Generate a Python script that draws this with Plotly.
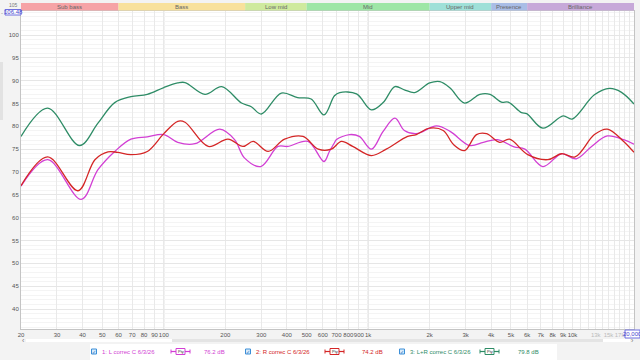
import math
import plotly.graph_objects as go

# ---------------- data ----------------
freq_L = [20, 27, 39.4, 47.6, 57.5, 69, 83, 100, 117, 142, 188, 222, 248, 298, 362, 404, 508, 608, 646, 684, 700,
          812, 905, 1038, 1184, 1352, 1504, 1720, 2160, 2518, 3140, 3660, 4300, 5180, 5850, 7160, 8840, 10440,
          12400, 14800, 17800, 20000]
db_L = [66.9, 72.7, 64.0, 70.5, 74.5, 77.2, 77.7, 78.2, 76.5, 76.2, 79.4, 77.1, 73.1, 71.2, 75.6, 75.6, 76.7, 72.3, 74.5, 76.4, 77.1,
        78.2, 77.8, 75.0, 78.9, 81.8, 79.1, 78.4, 80.1, 78.9, 75.8, 76.5, 77.1, 75.5, 75.0, 71.2, 74.0, 72.9,
        75.6, 77.9, 77.1, 76.1]

freq_R = [20, 27, 38, 46, 53.3, 59.4, 69, 83, 100, 117, 127, 165, 206, 244, 274, 324, 390, 480, 570, 660, 740, 840,
          1038, 1226, 1560, 1720, 2000, 2330, 2620, 2965, 3390, 3800, 4400, 4920, 6040, 7580, 8840, 10300, 12800,
          14800, 17800, 20000]
db_R = [67.0, 73.3, 65.9, 72.7, 74.4, 74.3, 73.8, 74.5, 78.4, 81.1, 80.9, 75.6, 77.2, 75.6, 76.7, 74.5, 77.2, 77.8, 75.0, 75.0, 76.7, 75.6,
        73.6, 75.0, 77.8, 78.2, 79.6, 79.1, 76.0, 74.7, 78.2, 78.4, 76.5, 77.2, 73.8, 72.7, 74.0, 73.3, 78.2,
        79.4, 76.7, 74.3]

freq_LR = [20, 27, 38.7, 47.6, 57.5, 69, 83, 100, 117, 127, 159, 192, 240, 268, 300, 376, 452, 526, 608, 684, 726,
           877, 1038, 1184, 1352, 1504, 1688, 2000, 2245, 2518, 2965, 3520, 3950, 4490, 4850, 5630, 5970, 7160,
           9000, 9960, 12800, 15180, 17300, 20000]
db_LR = [77.8, 84.0, 75.8, 80.7, 85.2, 86.5, 87.0, 88.5, 89.5, 89.6, 87.0, 88.7, 85.1, 84.3, 82.7, 87.3, 86.3, 86.0, 82.5, 86.7, 87.4,
         87.1, 83.6, 85.2, 88.7, 88.0, 87.4, 89.5, 89.8, 88.4, 85.1, 87.0, 87.0, 85.3, 85.3, 83.0, 82.8, 79.6,
         82.3, 81.6, 86.9, 88.3, 87.5, 84.9]

series_names = ["1: L correc C 6/3/26", "2: R correc C 6/3/26", "3: L+R correc C 6/3/26"]
series_levels = ["76.2 dB", "74.2 dB", "79.8 dB"]
series_colors = ["#D23FD4", "#D42626", "#2E8C66"]

bands = ["Sub bass", "Bass", "Low mid", "Mid", "Upper mid", "Presence", "Brilliance"]
band_edges = [20, 60, 250, 500, 2000, 4000, 6000, 20000]
band_colors = ["#F6A3A6", "#F8E19C", "#CFEA9E", "#9EE6A6", "#9FE0D8", "#A9BDE6", "#C7A9D9"]

y_ticks = [40, 45, 50, 55, 60, 65, 70, 75, 80, 85, 90, 95, 100]
y_top_label = "105"
x_tick_vals = [20, 30, 40, 50, 60, 70, 80, 90, 100, 200, 300, 400, 500, 600, 700, 800, 900,
               1000, 2000, 3000, 4000, 5000, 6000, 7000, 8000, 9000, 10000,
               11000, 12000, 13000, 14000, 15000, 16000, 17000, 18000, 19000]
x_tick_text = ["20", "30", "40", "50", "60", "70", "80", "90", "100", "200", "300", "400", "500", "600", "700",
               "800", "900", "1k", "2k", "3k", "4k", "5k", "6k", "7k", "8k", "9k", "10k",
               "", "", "<span style='color:#BBBBBB'>13k</span>", "", "<span style='color:#BBBBBB'>15k</span>", "",
               "<span style='color:#BBBBBB'>17k</span>", "", ""]

# ---------------- layout geometry ----------------
W, H = 640, 360
L, R, T, B = 21, 6, 11, 31
PW, PH = W - L - R, H - T - B
XMIN, XMAX = math.log10(20), math.log10(20000)


def fx(f):
    return (math.log10(f) - XMIN) / (XMAX - XMIN)


def px(x):
    return (x - L) / PW


def py(y):
    return (H - B - y) / PH


FONT = "Liberation Sans, Arial, sans-serif"


def note(x, y, text, size=6, color="#555555", xanchor="center", family=FONT):
    return dict(xref="paper", yref="paper", x=x, y=y, text=text, showarrow=False,
                xanchor=xanchor, yanchor="middle", font=dict(size=size, color=color, family=family))


fig = go.Figure()
for fr, db, c, n in zip([freq_L, freq_R, freq_LR], [db_L, db_R, db_LR], series_colors, series_names):
    fig.add_trace(go.Scatter(x=fr, y=db, mode="lines", name=n,
                             line=dict(color=c, width=1.3, shape="spline", smoothing=1.0),
                             hoverinfo="skip"))

shapes = []
annotations = []

# decade lines
for f in [100, 1000, 10000]:
    shapes.append(dict(type="line", xref="paper", yref="paper", x0=fx(f), x1=fx(f), y0=0, y1=1,
                       line=dict(color="#D2D2D2", width=1), layer="below"))

# frequency band bar
for name, f0, f1, col in zip(bands, band_edges[:-1], band_edges[1:], band_colors):
    shapes.append(dict(type="rect", xref="paper", yref="paper", x0=fx(f0), x1=fx(f1),
                       y0=py(10.5), y1=py(3), fillcolor=col, line=dict(width=0)))
    annotations.append(note((fx(f0) + fx(f1)) / 2, py(6.8), name, size=6, color="#666666"))

# partially hidden top label
annotations.append(note(px(20), py(5), y_top_label, size=5, color="#777777", xanchor="right"))

# top-left value box
shapes.append(dict(type="rect", xref="paper", yref="paper", x0=px(5), x1=px(21), y0=py(15), y1=py(9.5),
                   fillcolor="#FFFFFF", line=dict(color="#6F6FE0", width=1)))
annotations.append(note(px(13), py(12.3), "106.48", size=6, color="#4444CC"))
annotations.append(note(px(2), py(12.5), "-", size=6, color="#888888"))

# bottom-right value box
shapes.append(dict(type="rect", xref="paper", yref="paper", x0=px(625), x1=px(640), y0=py(338), y1=py(330),
                   fillcolor="#FFFFFF", line=dict(color="#6F6FE0", width=1)))
annotations.append(note(px(632.5), py(334), "20,000", size=6, color="#4444CC"))

# left scroll handle
shapes.append(dict(type="rect", xref="paper", yref="paper", x0=px(0), x1=px(3), y0=py(120), y1=py(62),
                   fillcolor="#E2E2E2", line=dict(width=0)))

# horizontal scrollbar
shapes.append(dict(type="rect", xref="paper", yref="paper", x0=px(26), x1=px(630), y0=py(342), y1=py(339),
                   fillcolor="#FFFFFF", line=dict(width=0)))
shapes.append(dict(type="rect", xref="paper", yref="paper", x0=px(172), x1=px(603), y0=py(342), y1=py(339),
                   fillcolor="#E4E4E4", line=dict(width=0)))
annotations.append(note(px(23), py(340.5), "‹", size=7, color="#777777"))
annotations.append(note(px(632), py(340.5), "›", size=7, color="#777777"))

# legend strip
shapes.append(dict(type="rect", xref="paper", yref="paper", x0=px(90), x1=px(557), y0=py(360), y1=py(344),
                   fillcolor="#FFFFFF", line=dict(width=0)))
ly = 351.5
check_x = [94, 248, 402]
name_x = [100, 254, 408]
icon_x = [171, 325, 480]
level_x = [214.5, 372.5, 528]
for i in range(3):
    c = series_colors[i]
    shapes.append(dict(type="rect", xref="paper", yref="paper", x0=px(check_x[i] - 2.5), x1=px(check_x[i] + 2.5),
                       y0=py(ly + 2.5), y1=py(ly - 2.5), fillcolor="#D8ECFB", line=dict(color="#3C8FD8", width=1)))
    annotations.append(note(px(check_x[i]), py(ly), "✓", size=5, color="#1F6FC0", family="DejaVu Sans"))
    annotations.append(note(px(name_x[i]), py(ly), series_names[i], size=6, color=c, xanchor="left"))
    x0 = icon_x[i]
    shapes.append(dict(type="line", xref="paper", yref="paper", x0=px(x0), x1=px(x0 + 19), y0=py(ly), y1=py(ly),
                       line=dict(color=c, width=1.2)))
    shapes.append(dict(type="line", xref="paper", yref="paper", x0=px(x0), x1=px(x0), y0=py(ly - 2), y1=py(ly + 2),
                       line=dict(color=c, width=1)))
    shapes.append(dict(type="line", xref="paper", yref="paper", x0=px(x0 + 19), x1=px(x0 + 19), y0=py(ly - 2),
                       y1=py(ly + 2), line=dict(color=c, width=1)))
    shapes.append(dict(type="rect", xref="paper", yref="paper", x0=px(x0 + 5), x1=px(x0 + 14), y0=py(ly + 3),
                       y1=py(ly - 3), fillcolor="#FFFFFF", line=dict(color=c, width=1)))
    annotations.append(note(px(x0 + 9.5), py(ly), "Pty", size=4, color="#333333"))
    annotations.append(note(px(level_x[i]), py(ly), series_levels[i], size=6, color=c))

fig.update_layout(
    width=W, height=H,
    margin=dict(l=L, r=R, t=T, b=B, pad=0),
    paper_bgcolor="#F3F3F3", plot_bgcolor="#FFFFFF",
    showlegend=False,
    font=dict(family=FONT, size=6, color="#555555"),
    shapes=shapes, annotations=annotations,
    xaxis=dict(type="log", range=[XMIN, XMAX], tickvals=x_tick_vals, ticktext=x_tick_text, tickangle=0,
               showgrid=True, gridcolor="#E9E9E9", gridwidth=1, zeroline=False,
               showline=True, linecolor="#C4C4C4", mirror=True, ticks="", ticklen=0,
               tickfont=dict(size=6, color="#555555")),
    yaxis=dict(range=[35.62, 105.26], tickvals=y_ticks, showgrid=True, gridcolor="#E6E6E6", zeroline=False,
               minor=dict(dtick=1, showgrid=True, gridcolor="#F4F4F4"),
               showline=True, linecolor="#C4C4C4", mirror=True, ticks="", ticklen=0,
               tickfont=dict(size=6, color="#555555")),
)

fig.write_html("out.html")
